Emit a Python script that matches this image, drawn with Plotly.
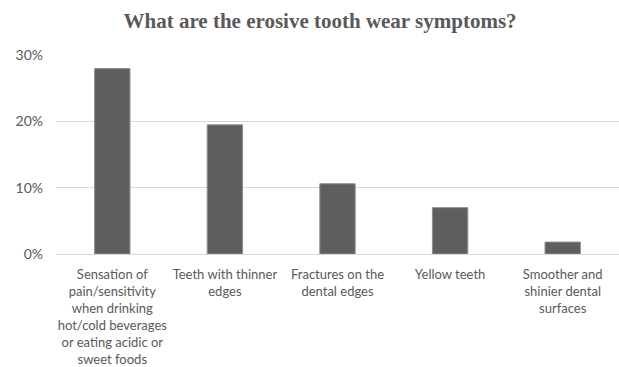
import plotly.graph_objects as go

categories = [
    "Sensation of<br>pain/sensitivity<br>when drinking<br>hot/cold beverages<br>or eating acidic or<br>sweet foods",
    "Teeth with thinner<br>edges",
    "Fractures on the<br>dental edges",
    "Yellow teeth",
    "Smoother and<br>shinier dental<br>surfaces",
]
shares = [0.28, 0.195, 0.106, 0.07, 0.018]
tick_values = [0, 0.1, 0.2, 0.3]
tick_labels = ["0%", "10%", "20%", "30%"]

text_grey = "#595959"

fig = go.Figure(
    go.Bar(
        x=categories,
        y=shares,
        marker=dict(color="#5e5e5e", line=dict(color="#8c8c8c", width=1)),
        hoverinfo="skip",
    )
)

fig.update_layout(
    width=619,
    height=367,
    margin=dict(l=56, r=0, t=55, b=113),
    paper_bgcolor="white",
    plot_bgcolor="white",
    bargap=0.686,
    showlegend=False,
    title=dict(
        text="<b>What are the erosive tooth wear symptoms?</b>",
        font=dict(family="Liberation Serif", size=21, color=text_grey),
        x=0.517,
        xref="container",
        xanchor="center",
        y=1 - 21 / 367,
        yref="container",
        yanchor="middle",
    ),
    font=dict(family="Lato", size=13, color=text_grey),
)

fig.update_xaxes(
    showgrid=False,
    showline=False,
    ticks="",
    tickangle=0,
    tickfont=dict(family="Lato", size=13, color=text_grey),
    ticklabelstandoff=11,
)

fig.update_yaxes(
    range=[0, 0.3005],
    tickvals=tick_values,
    ticktext=tick_labels,
    showgrid=True,
    gridcolor="#d9d9d9",
    gridwidth=1,
    zeroline=True,
    zerolinecolor="#d9d9d9",
    zerolinewidth=1,
    showline=False,
    ticks="",
    tickfont=dict(family="Lato", size=14, color=text_grey),
    ticklabelstandoff=12,
)

fig.write_html("out.html")
